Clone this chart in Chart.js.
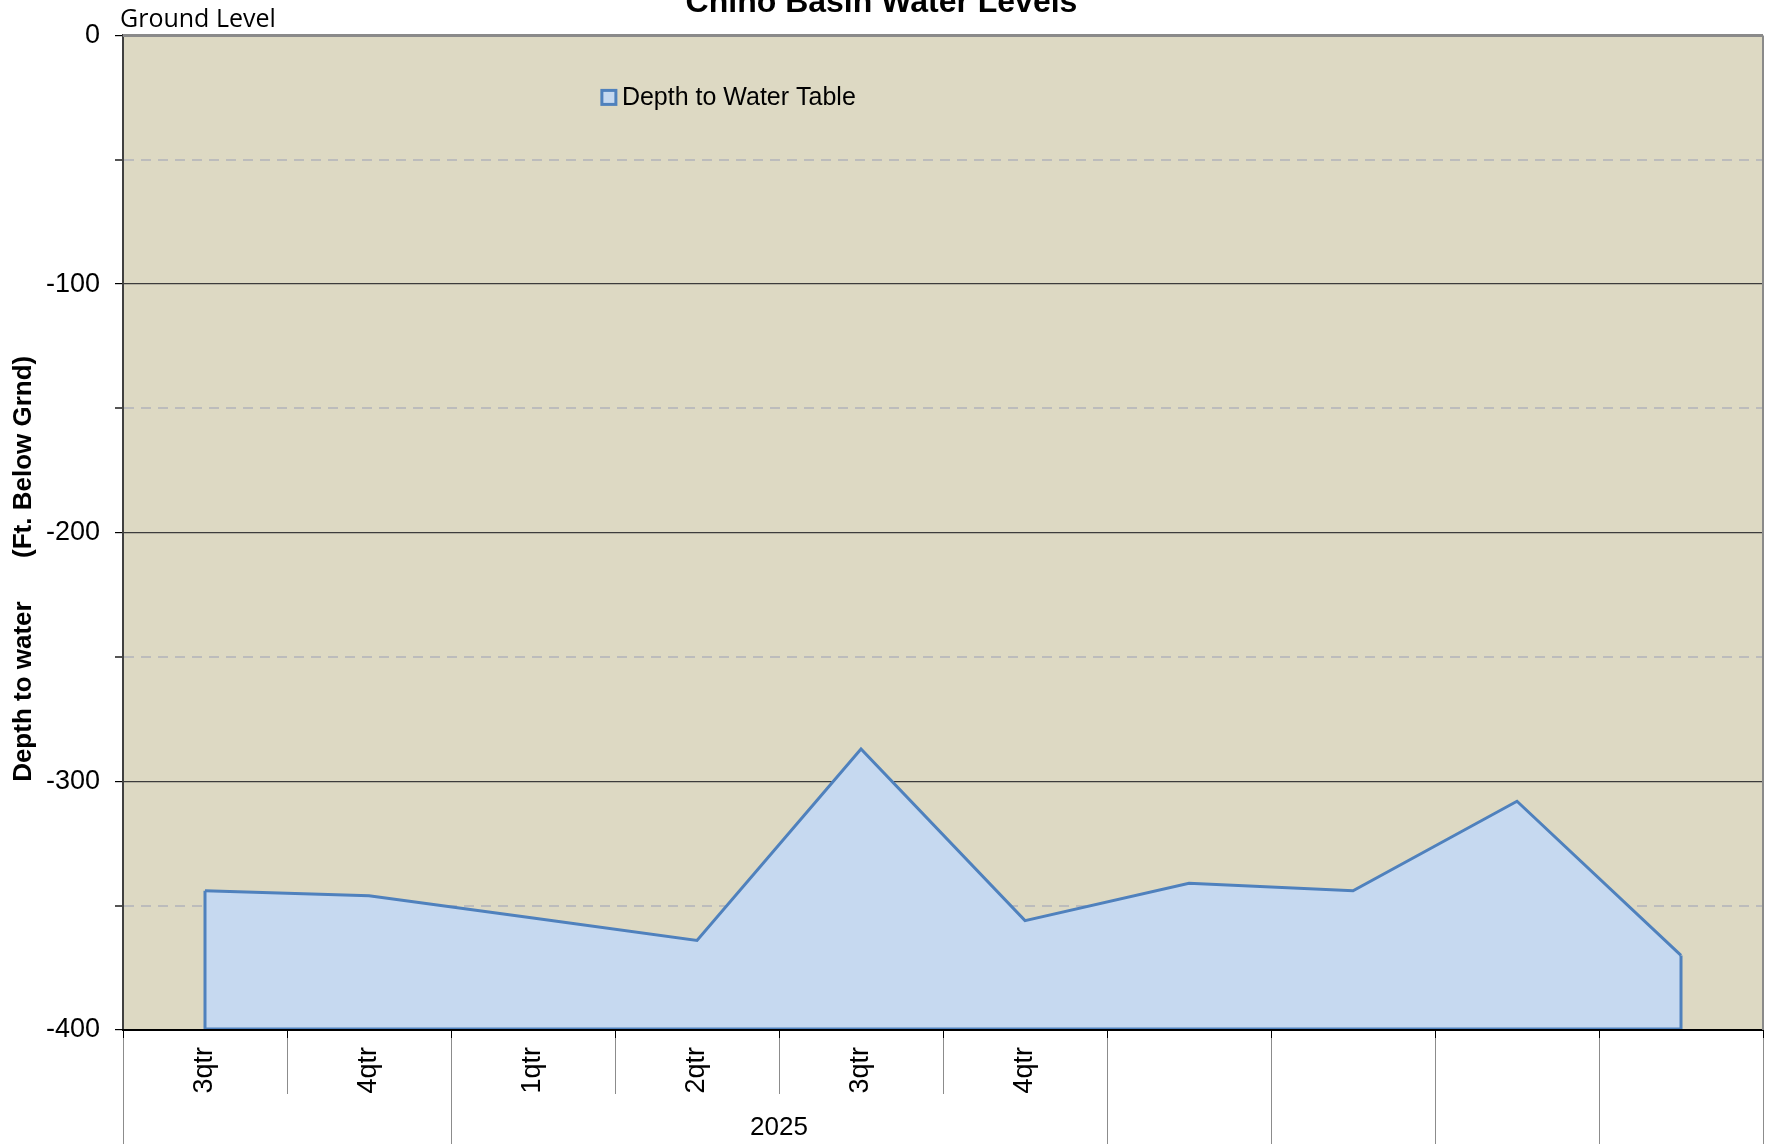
<!DOCTYPE html>
<html>
<head>
<meta charset="utf-8">
<script src="https://cdn.jsdelivr.net/npm/chart.js@4.4.0/dist/chart.umd.min.js"></script>
<style>
html,body{margin:0;padding:0;background:#fff;overflow:hidden}
#wrap{width:1769px;height:1144px;position:relative}
</style>
</head>
<body>
<div id="wrap"><canvas id="c" width="1769" height="1144"></canvas></div>
<script>
// ---- data ----
const categories = ['3qtr', '4qtr', '1qtr', '2qtr', '3qtr', '4qtr', '', '', '', ''];
const groupLabels = ['', '2025', '', '', '', ''];
const groupSpans = [2, 4, 1, 1, 1, 1];
const depthToWater = [-344, -346, -355, -364, -287, -356, -341, -344, -308, -370];
const seriesLabel = 'Depth to Water Table';
const chartTitle = 'Chino Basin Water Levels';
const yAxisTitle = 'Depth to water      (Ft. Below Grnd)';
const groundLabel = 'Ground Level';
const yMin = -400, yMax = 0, yStep = 50, yLabelStep = 100;

// ---- styles ----
const SANS = '"Liberation Sans", Arial, Helvetica, sans-serif';
const LINE_BLUE = '#4F81BD';
const FILL_BLUE = '#C6D9F0';
const PLOT_BG = '#DDD9C3';

const plotBackground = {
  id: 'plotBackground',
  beforeDraw(chart) {
    const {ctx, chartArea: a} = chart;
    ctx.save();
    ctx.fillStyle = PLOT_BG;
    ctx.fillRect(a.left, a.top, a.right - a.left, a.bottom - a.top);
    ctx.restore();
  }
};

const areaOutline = {
  id: 'areaOutline',
  afterDatasetsDraw(chart) {
    const meta = chart.getDatasetMeta(0);
    const pts = meta.data;
    if (!pts.length) return;
    const yb = chart.scales.y.getPixelForValue(yMin);
    const first = pts[0], last = pts[pts.length - 1];
    const ctx = chart.ctx;
    ctx.save();
    ctx.strokeStyle = LINE_BLUE;
    ctx.lineWidth = 3;
    ctx.beginPath();
    ctx.moveTo(first.x, first.y);
    ctx.lineTo(first.x, yb - 1);
    ctx.lineTo(last.x, yb - 1);
    ctx.lineTo(last.x, last.y);
    ctx.stroke();
    ctx.restore();
  }
};

const decorations = {
  id: 'decorations',
  afterDraw(chart) {
    const {ctx, chartArea: a} = chart;
    const xs = chart.scales.x;
    ctx.save();
    // top and right frame
    ctx.strokeStyle = '#8a8a8a';
    ctx.lineWidth = 3;
    ctx.beginPath();
    ctx.moveTo(a.left, a.top);
    ctx.lineTo(a.right, a.top);
    ctx.stroke();
    ctx.lineWidth = 2;
    ctx.beginPath();
    ctx.moveTo(a.right, a.top);
    ctx.lineTo(a.right, a.bottom);
    ctx.stroke();

    // category group separators
    const n = categories.length;
    const majors = new Set([0]);
    let acc = 0;
    groupSpans.forEach(s => { acc += s; majors.add(acc); });
    const axisY = a.bottom;
    ctx.strokeStyle = '#8c8c8c';
    ctx.lineWidth = 1;
    for (let i = 0; i <= n; i++) {
      const x = Math.round(xs.getPixelForValue(i - 0.5)) + 0.5;
      const yEnd = majors.has(i) ? chart.height : axisY + 64;
      ctx.beginPath();
      ctx.moveTo(x, axisY + 8);
      ctx.lineTo(x, yEnd);
      ctx.stroke();
    }
    // group labels
    ctx.fillStyle = '#000';
    ctx.font = '26px ' + SANS;
    ctx.textAlign = 'center';
    ctx.textBaseline = 'middle';
    let start = 0;
    groupSpans.forEach((s, gi) => {
      const x0 = xs.getPixelForValue(start - 0.5);
      const x1 = xs.getPixelForValue(start + s - 0.5);
      if (groupLabels[gi]) ctx.fillText(groupLabels[gi], (x0 + x1) / 2, axisY + 98);
      start += s;
    });

    // "Ground Level" note
    ctx.font = '25px "Open Sans", ' + SANS;
    ctx.textAlign = 'left';
    ctx.textBaseline = 'alphabetic';
    ctx.fillText(groundLabel, a.left - 3, a.top - 8);

    // legend inside plot
    const ds = chart.data.datasets[0];
    const bx = a.left + (a.right - a.left) * 0.292;
    const by = a.top + 55;
    ctx.fillStyle = FILL_BLUE;
    ctx.fillRect(bx, by, 14, 14);
    ctx.strokeStyle = LINE_BLUE;
    ctx.lineWidth = 3;
    ctx.strokeRect(bx, by, 14, 14);
    ctx.fillStyle = '#000';
    ctx.font = '25px ' + SANS;
    ctx.textBaseline = 'middle';
    ctx.fillText(ds.label, bx + 20, by + 8);
    ctx.restore();
  }
};

new Chart(document.getElementById('c'), {
  type: 'line',
  data: {
    labels: categories,
    datasets: [{
      label: seriesLabel,
      data: depthToWater,
      borderColor: LINE_BLUE,
      backgroundColor: FILL_BLUE,
      borderWidth: 3,
      fill: 'start',
      pointRadius: 0,
      pointHoverRadius: 0,
      tension: 0
    }]
  },
  options: {
    responsive: false,
    animation: false,
    devicePixelRatio: 1,
    layout: {padding: {top: 0, right: 6, bottom: 0, left: 0}},
    plugins: {
      legend: {display: false},
      tooltip: {enabled: false},
      title: {
        display: true,
        text: chartTitle,
        color: '#000',
        font: {family: SANS, size: 32, weight: 'bold', lineHeight: 1.2},
        padding: {top: -16, bottom: 13}
      }
    },
    scales: {
      x: {
        type: 'category',
        offset: true,
        grid: {offset: true, drawOnChartArea: false, drawTicks: true, tickLength: 8, tickColor: '#000', lineWidth: 1},
        border: {color: '#000', width: 2, z: 1},
        ticks: {autoSkip: false, minRotation: 90, maxRotation: 90, padding: 9, color: '#000', font: {family: SANS, size: 27}},
        afterFit(s) { s.height = 114; }
      },
      y: {
        min: yMin,
        max: yMax,
        grid: {
          color: c => (c.tick && c.tick.value % yLabelStep !== 0) ? '#bcbcbc' : '#3c3c3c',
          lineWidth: c => (c.tick && c.tick.value % yLabelStep !== 0) ? 2 : 1.2,
          tickColor: c => (c.tick && c.tick.value % yLabelStep !== 0) ? '#555' : '#000',
          tickLength: 8,
          drawTicks: true
        },
        border: {
          color: '#404040',
          width: 2,
          dash: c => (c.tick && c.tick.value % yLabelStep !== 0) ? [10, 7] : []
        },
        ticks: {
          stepSize: yStep,
          padding: 15,
          color: '#000',
          font: {family: SANS, size: 27},
          callback: v => (v % yLabelStep === 0 ? String(v) : '')
        },
        title: {
          display: true,
          text: yAxisTitle + ' '.repeat(10),
          color: '#000',
          font: {family: SANS, size: 26, weight: 'bold', lineHeight: 1.2},
          padding: {top: 8, bottom: 0}
        },
        afterFit(s) { s.width = 123; }
      }
    }
  },
  plugins: [plotBackground, areaOutline, decorations]
});
</script>
</body>
</html>
